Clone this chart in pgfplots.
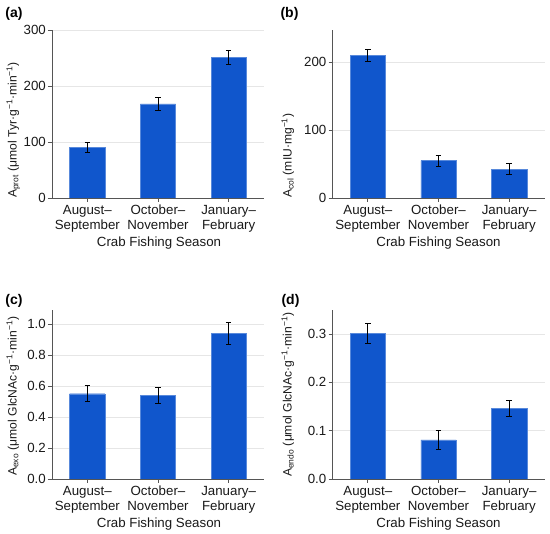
\documentclass[border=0pt]{standalone}
\usepackage{pgfplots}
\pgfplotsset{compat=1.18}
\usepackage{fontspec}
\setmainfont{Liberation Sans}
\definecolor{barblue}{RGB}{16,86,204}
\definecolor{axgray}{RGB}{85,85,85}
\definecolor{gridgray}{RGB}{230,230,230}
\pgfplotsset{
 panel/.style={
  scale only axis, width=212pt, height=168pt,
  xmin=-0.5, xmax=2.5, ymin=0,
  axis x line*=bottom, axis y line*=left,
  axis line style={axgray, line width=0.8pt, -},
  xtick={0,1,2},
  xticklabels={{August–\\September},{October–\\November},{January–\\February}},
  xticklabel style={align=center, font=\fontsize{13.3}{15}\selectfont, text=black!90, inner sep=2pt, yshift=-1pt},
  yticklabel style={font=\fontsize{13.3}{15}\selectfont, text=black!90, inner sep=2pt},
  tick align=outside, major tick length=4pt,
  tick style={axgray, line width=0.8pt},
  ymajorgrids, grid style={gridgray, line width=0.6pt},
  /pgf/number format/assume math mode=true,
  ybar, bar width=0.5,
 },
 bars/.style={fill=barblue, draw=barblue!70!white, line width=0.4pt,
  error bars/.cd, y dir=both, y explicit,
  error bar style={black, line width=0.7pt},
  error mark options={black, rotate=90, mark size=2.8pt, line width=0.7pt}},
}
\tikzset{
 ylab/.style={rotate=90, anchor=base west, inner sep=0pt, font=\fontsize{12.1}{14}\selectfont, text=black!90},
 xlab/.style={font=\fontsize{13.3}{15}\selectfont, text=black!90},
 plab/.style={font=\fontsize{14}{16}\selectfont\bfseries},
}
\begin{document}
\begin{tikzpicture}[x=1pt,y=1pt]
\useasboundingbox (0pt,0pt) rectangle (550pt,534pt);
% (a)
\begin{axis}[panel, at={(52pt,336pt)}, anchor=south west, ymax=300, ytick={0,100,200,300}]
\addplot[bars] coordinates {(0,90.3) +- (0,9) (1,168) +- (0,11) (2,251.3) +- (0,12)};
\end{axis}
% (b)
\begin{axis}[panel, at={(332.5pt,336pt)}, anchor=south west, ymax=247, ytick={0,100,200}]
\addplot[bars] coordinates {(0,209.8) +- (0,9) (1,54.9) +- (0,8) (2,42.2) +- (0,8)};
\end{axis}
% (c)
\begin{axis}[panel, at={(52pt,55pt)}, anchor=south west, height=169pt, ymax=1.09, ytick={0,0.2,0.4,0.6,0.8,1.0},
  yticklabel style={/pgf/number format/.cd, fixed, fixed zerofill, precision=1}]
\addplot[bars] coordinates {(0,0.55) +- (0,0.051) (1,0.539) +- (0,0.052) (2,0.94) +- (0,0.071)};
\end{axis}
% (d)
\begin{axis}[panel, at={(332.5pt,55pt)}, anchor=south west, height=169pt, ymax=0.35, ytick={0,0.1,0.2,0.3},
  yticklabel style={/pgf/number format/.cd, fixed, fixed zerofill, precision=1}]
\addplot[bars] coordinates {(0,0.301) +- (0,0.0204) (1,0.0809) +- (0,0.02) (2,0.1465) +- (0,0.0162)};
\end{axis}
% panel letters
\node[plab] at (14pt,520.5pt) {(a)};
\node[plab] at (289.5pt,520.5pt) {(b)};
\node[plab] at (14pt,233.5pt) {(c)};
\node[plab] at (290.5pt,233.5pt) {(d)};
% x labels
\node[xlab] at (159pt,291pt) {Crab Fishing Season};
\node[xlab] at (438.5pt,291pt) {Crab Fishing Season};
\node[xlab] at (159pt,10pt) {Crab Fishing Season};
\node[xlab] at (438.5pt,10pt) {Crab Fishing Season};
% y labels
\node[ylab] at (16.7pt,336pt) {A\textsubscript{prot} (μmol Tyr·g\textsuperscript{−1}·min\textsuperscript{−1})};
\node[ylab] at (291.7pt,336pt) {A\textsubscript{col} (mIU·mg\textsuperscript{−1})};
\node[ylab] at (16.7pt,58pt) {A\textsubscript{exo} (μmol GlcNAc·g\textsuperscript{−1}·min\textsuperscript{−1})};
\node[ylab] at (291.7pt,57pt) {A\textsubscript{endo} (μmol GlcNAc·g\textsuperscript{−1}·min\textsuperscript{−1})};
\end{tikzpicture}
\end{document}
